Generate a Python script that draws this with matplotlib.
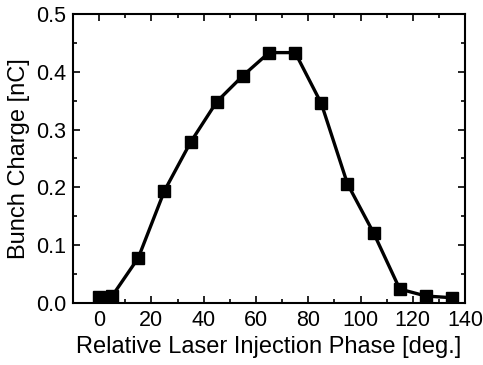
import matplotlib
matplotlib.use("Agg")
import matplotlib.pyplot as plt
from matplotlib.ticker import MultipleLocator

plt.rcParams['font.family'] = ['Liberation Sans', 'DejaVu Sans']

phase = [0, 5, 15, 25, 35, 45, 55, 65, 75, 85, 95, 105, 115, 125, 135]
charge = [0.010, 0.012, 0.078, 0.194, 0.278, 0.348, 0.393, 0.433, 0.433,
          0.345, 0.206, 0.121, 0.024, 0.012, 0.009]

fig = plt.figure(figsize=(4.83, 3.65), dpi=100)
ax = fig.add_axes([0.151, 0.170, 0.812, 0.792])
ax.plot(phase, charge, color='black', linewidth=2.4, marker='s',
        markersize=9, markerfacecolor='black', markeredgecolor='black')
ax.set_xlim(-10, 140)
ax.set_ylim(0, 0.5)
ax.xaxis.set_major_locator(MultipleLocator(20))
ax.xaxis.set_minor_locator(MultipleLocator(10))
ax.yaxis.set_major_locator(MultipleLocator(0.1))
ax.yaxis.set_minor_locator(MultipleLocator(0.05))
ax.yaxis.set_major_formatter(matplotlib.ticker.FormatStrFormatter('%.1f'))
ax.tick_params(which='both', direction='in', top=True, right=True,
               labelsize=15.5, width=1.2)
ax.tick_params(which='major', length=5, pad=5)
ax.tick_params(which='minor', length=3)
for s in ax.spines.values():
    s.set_linewidth(1.5)
ax.set_xlabel('Relative Laser Injection Phase [deg.]', fontsize=17, labelpad=4)
ax.set_ylabel('Bunch Charge [nC]', fontsize=17, labelpad=4)
fig.savefig('out.png', dpi=100)
